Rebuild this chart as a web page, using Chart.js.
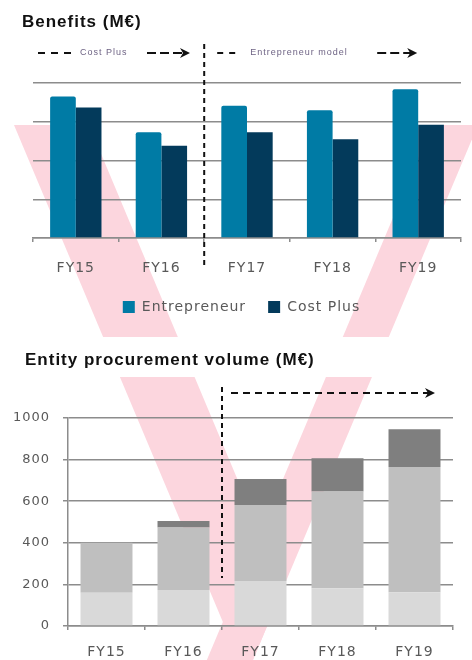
<!DOCTYPE html>
<html>
<head>
<meta charset="utf-8">
<script src="https://cdn.jsdelivr.net/npm/chart.js@4.4.1/dist/chart.umd.min.js"></script>
<style>
  body { margin: 0; background: #fff; }
  #page { position: relative; width: 472px; height: 660px; overflow: hidden; }
  #logo { position: absolute; left: 0; top: 0; }
  #top { position: absolute; left: 0; top: 0; width: 472px; height: 330px; }
  #bottom { position: absolute; left: 0; top: 330px; width: 472px; height: 330px; }
</style>
</head>
<body>
<div id="page">
  <!-- pale V watermark behind both charts -->
  <svg id="logo" width="472" height="660">
    <polygon points="14,125 89,125 283,588 246,677" fill="#fcd6de"/>
    <polygon points="432,125 478,125 236,700 190,700" fill="#fcd6de"/>
    <rect x="0" y="337" width="472" height="40" fill="#fff"/>
  </svg>
  <div id="top"><canvas id="benefits"></canvas></div>
  <div id="bottom"><canvas id="procurement"></canvas></div>
</div>
<script>
const years = ['FY15', 'FY16', 'FY17', 'FY18', 'FY19'];

// Benefits (no axis labels in the source, read in gridline units)
const entrepreneur = [3.65, 2.73, 3.41, 3.30, 3.84];
const costPlus = [3.37, 2.38, 2.73, 2.55, 2.92];

// Entity procurement volume (M€), stacked
const volumeBase = [160, 173, 216, 182, 162];
const volumeMid = [240, 301, 366, 465, 602];
const volumeTop = [0, 31, 125, 160, 182];
const volumeTicks = [0, 200, 400, 600, 800, 1000];

Chart.defaults.font.family = '"DejaVu Sans", Verdana, sans-serif';
const gridGrey = '#8c8c8c';
const labelGrey = '#595959';
const titleFont = { family: '"Liberation Sans", Arial, sans-serif', size: 17, weight: 'bold' };

// source text is set loosely, mimic with canvas letter spacing
const spacing = {
  id: 'spacing',
  beforeUpdate(chart) { chart.ctx.letterSpacing = '1px'; },
  beforeDraw(chart) { chart.ctx.letterSpacing = '1px'; }
};

function dashed(ctx, x0, y0, x1, y1, dash) {
  ctx.save();
  ctx.setLineDash(dash);
  ctx.lineWidth = 2;
  ctx.strokeStyle = '#111';
  ctx.beginPath();
  ctx.moveTo(x0, y0);
  ctx.lineTo(x1, y1);
  ctx.stroke();
  ctx.restore();
}

function arrowHead(ctx, x, y) {
  ctx.save();
  ctx.fillStyle = '#111';
  ctx.beginPath();
  ctx.moveTo(x, y);
  ctx.lineTo(x - 10, y - 5);
  ctx.lineTo(x - 7, y);
  ctx.lineTo(x - 10, y + 5);
  ctx.closePath();
  ctx.fill();
  ctx.restore();
}

function note(ctx, text, x, y) {
  ctx.save();
  ctx.font = '9px "Liberation Sans", Arial, sans-serif';
  ctx.fillStyle = '#6e6384';
  ctx.textBaseline = 'middle';
  ctx.textAlign = 'left';
  ctx.fillText(text, x, y);
  ctx.restore();
}

const benefitsNotes = {
  id: 'benefitsNotes',
  afterDraw(chart) {
    const { ctx, chartArea } = chart;
    const split = chart.scales.x.getPixelForValue(1.5);
    const y = chartArea.top - 30;
    dashed(ctx, split, chartArea.top - 39, split, chartArea.bottom + 30, [5, 4]);

    dashed(ctx, chartArea.left + 5, y, chartArea.left + 38, y, [7, 6]);
    note(ctx, 'Cost Plus', chartArea.left + 47, y);
    dashed(ctx, chartArea.left + 114, y, chartArea.left + 151, y, [9, 4]);
    arrowHead(ctx, chartArea.left + 157, y);

    dashed(ctx, split + 13, y, split + 31, y, [6, 6]);
    note(ctx, 'Entrepreneur model', split + 46, y);
    dashed(ctx, split + 173, y, split + 207, y, [9, 4]);
    arrowHead(ctx, split + 213, y);
  }
};

// title drawn by hand here: it sits further right than the y tick labels
const procurementNotes = {
  id: 'procurementNotes',
  afterDraw(chart) {
    const { ctx, chartArea } = chart;
    ctx.save();
    ctx.font = 'bold 17px "Liberation Sans", Arial, sans-serif';
    ctx.fillStyle = '#111';
    ctx.textBaseline = 'middle';
    ctx.fillText('Entity procurement volume (M€)', 25, 30);
    ctx.restore();

    const split = chart.scales.x.getPixelForValue(1.5);
    const y = chartArea.top - 25;
    dashed(ctx, split, chartArea.top - 31, split, chartArea.bottom - 48, [5, 4]);
    dashed(ctx, split + 9, y, chartArea.right - 25, y, [7, 5]);
    arrowHead(ctx, chartArea.right - 18, y);
  }
};

new Chart(document.getElementById('benefits'), {
  type: 'bar',
  data: {
    labels: years,
    datasets: [{
      label: 'Entrepreneur',
      data: entrepreneur,
      backgroundColor: '#007ba5',
      borderRadius: 2,
      borderSkipped: 'start'
    }, {
      label: 'Cost Plus',
      data: costPlus,
      backgroundColor: '#033a5b'
    }]
  },
  options: {
    responsive: true,
    maintainAspectRatio: false,
    animation: false,
    datasets: { bar: { categoryPercentage: 0.6, barPercentage: 1 } },
    layout: { padding: { left: 22, right: 11, top: 0, bottom: 6 } },
    plugins: {
      title: {
        display: true,
        text: 'Benefits (M€)',
        align: 'start',
        color: '#111',
        font: titleFont,
        padding: { top: 12, bottom: 50.6 }
      },
      legend: {
        position: 'bottom',
        labels: { boxWidth: 12, boxHeight: 12, padding: 22, color: labelGrey, font: { size: 14 } }
      },
      tooltip: { enabled: false }
    },
    scales: {
      x: {
        grid: { drawOnChartArea: false, tickLength: 4, color: gridGrey, lineWidth: 1.5 },
        border: { color: gridGrey, width: 1.5 },
        ticks: { color: labelGrey, font: { size: 14 }, padding: 17.6 },
        afterFit: s => { s.height = 40; }
      },
      y: {
        min: 0,
        max: 4,
        ticks: { display: false, stepSize: 1 },
        grid: { drawTicks: false, color: gridGrey, lineWidth: 1.5 },
        border: { display: false },
        afterFit: s => { s.width = 11; }
      }
    }
  },
  plugins: [spacing, benefitsNotes]
});

new Chart(document.getElementById('procurement'), {
  type: 'bar',
  data: {
    labels: years,
    datasets: [{
      label: 'Base',
      data: volumeBase,
      backgroundColor: '#d9d9d9'
    }, {
      label: 'Core',
      data: volumeMid,
      backgroundColor: '#bfbfbf'
    }, {
      label: 'Growth',
      data: volumeTop,
      backgroundColor: '#7f7f7f'
    }]
  },
  options: {
    responsive: true,
    maintainAspectRatio: false,
    animation: false,
    datasets: { bar: { categoryPercentage: 0.675, barPercentage: 1 } },
    layout: { padding: { left: 8, right: 19, top: 88, bottom: 0 } },
    plugins: {
      title: { display: false },
      legend: { display: false },
      tooltip: { enabled: false }
    },
    scales: {
      x: {
        stacked: true,
        grid: { drawOnChartArea: false, tickLength: 4, color: gridGrey, lineWidth: 1.5 },
        border: { color: gridGrey, width: 1.5 },
        ticks: { color: labelGrey, font: { size: 14 }, padding: 13.6 },
        afterFit: s => { s.height = 34; }
      },
      y: {
        stacked: true,
        min: 0,
        max: 1000,
        afterBuildTicks: s => { s.ticks = volumeTicks.map(v => ({ value: v })); },
        ticks: { color: labelGrey, font: { size: 13 }, padding: 13, callback: v => String(v) },
        grid: { tickLength: 5, color: gridGrey, lineWidth: 1.5 },
        border: { color: gridGrey, width: 1.5 },
        afterFit: s => { s.width = 60; }
      }
    }
  },
  plugins: [spacing, procurementNotes]
});
</script>
</body>
</html>
